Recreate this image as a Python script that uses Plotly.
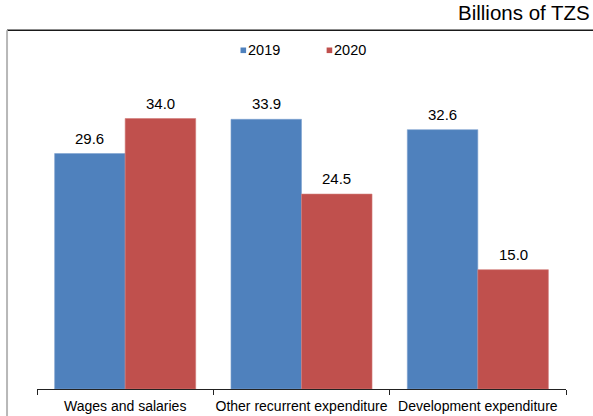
import plotly.graph_objects as go

categories = ["Wages and salaries", "Other recurrent expenditure", "Development expenditure"]
values_2019 = [29.6, 33.9, 32.6]
values_2020 = [34.0, 24.5, 15.0]
series_names = ["2019", "2020"]
unit_label = "Billions of TZS"

W, H = 593, 416
L, R, T, B = 37, 26.5, 31.3, 26.7
plot_w = W - L - R
plot_h = H - T - B

BLUE = "#4F81BD"
RED = "#C0504D"
FONT = "Liberation Sans, Arial, sans-serif"

BARGAP = 0.2
cat_px = plot_w / len(categories)
bar_px = cat_px * (1 - BARGAP) / 2

series = [
    (series_names[0], values_2019, BLUE, "#7FA2D0", -bar_px / 2),
    (series_names[1], values_2020, RED, "#D27C79", bar_px / 2),
]

fig = go.Figure()
for name, vals, col, edge, shift in series:
    fig.add_trace(go.Bar(
        x=categories, y=vals, name=name, showlegend=False,
        marker=dict(color=col, line=dict(color=edge, width=0.6)),
    ))
    # value labels above each bar
    for cat, v in zip(categories, vals):
        fig.add_annotation(x=cat, y=v, xref="x", yref="y", text=f"{v:.1f}",
                           showarrow=False, xanchor="center", yanchor="bottom",
                           xshift=shift, yshift=5,
                           font=dict(family=FONT, size=15, color="#000000"))


def px_x(px):
    return (px - L) / plot_w


def px_y(py):
    return (H - B - py) / plot_h


# legend: small coloured squares followed by series names
for (name, vals, col, edge, shift), sq_left in zip(series, [240.7, 326.9]):
    fig.add_shape(type="rect", xref="paper", yref="paper",
                  x0=px_x(sq_left), x1=px_x(sq_left + 5.6),
                  y0=px_y(47.8), y1=px_y(53.4),
                  fillcolor=col, line=dict(width=0))
    fig.add_annotation(text=name, xref="paper", yref="paper",
                       x=px_x(sq_left + 6.8), y=px_y(50.2),
                       xanchor="left", yanchor="middle", showarrow=False,
                       borderpad=0,
                       font=dict(family=FONT, size=14.5, color="#000000"))

# frame lines: dark top rule and grey left rule
fig.add_shape(type="line", xref="paper", yref="paper",
              x0=px_x(7), x1=px_x(W + 2), y0=px_y(30.5), y1=px_y(30.5),
              line=dict(color="#1a1a1a", width=1.5))
fig.add_shape(type="line", xref="paper", yref="paper",
              x0=px_x(7), x1=px_x(7), y0=px_y(30.5), y1=px_y(H + 2),
              line=dict(color="#b8b8b8", width=2))

fig.add_annotation(text=unit_label, xref="paper", yref="paper",
                   x=px_x(592), y=px_y(12.5), xanchor="right", yanchor="middle",
                   showarrow=False, borderpad=0,
                   font=dict(family=FONT, size=20.5, color="#000000"))

fig.update_layout(
    width=W, height=H,
    margin=dict(l=L, r=R, t=T, b=B, pad=0, autoexpand=False),
    paper_bgcolor="white", plot_bgcolor="white",
    barmode="group", bargap=BARGAP, bargroupgap=0,
    font=dict(family=FONT, size=14, color="#000000"),
    showlegend=False,
    xaxis=dict(showline=True, linecolor="#222222", linewidth=1,
               ticks="outside", tickson="boundaries", ticklen=5,
               tickcolor="#222222", tickwidth=1, automargin=False,
               ticklabelstandoff=4, tickangle=0,
               tickfont=dict(family=FONT, size=14, color="#000000"),
               showgrid=False, zeroline=False),
    yaxis=dict(range=[0, 45], visible=False, showgrid=False, zeroline=False,
               automargin=False),
)

fig.write_html("out.html")
